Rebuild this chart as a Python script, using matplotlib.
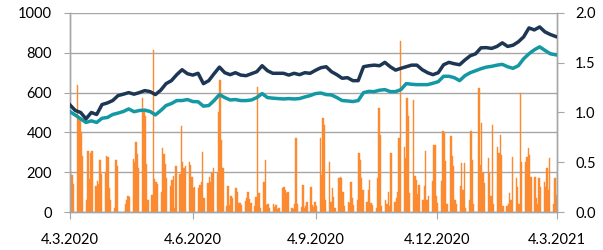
import matplotlib
matplotlib.use("Agg")
import matplotlib.pyplot as plt
import matplotlib.dates as mdates
import numpy as np
import pandas as pd

plt.rcParams['font.family'] = ['Lato', 'DejaVu Sans']

# Daily bars (left axis, 0-1000), business days 4.3.2020 - 4.3.2021
bar_values = [
    205, 185, 140,
    640, 480, 470, 400, 280,
    60, 305, 165, 295, 305,
    130, 155, 140, 260, 190,
    200, 280, 275, 120, 60,
    20, 260, 230, 0, 0,
    0, 40, 60, 80, 75,
    265, 250, 350, 290, 220,
    575, 500, 480, 240, 60,
    85, 815, 165, 150, 140,
    100, 320, 290, 240, 170,
    130, 160, 180, 20, 230,
    190, 430, 250, 220, 230,
    250, 236, 178, 120, 125,
    119, 136, 150, 303, 69,
    146, 178, 152, 196, 221,
    194, 504, 665, 360, 220,
    30, 129, 35, 79, 70,
    121, 100, 45, 44, 35,
    54, 69, 102, 65, 45,
    30, 77, 630, 94, 20,
    152, 261, 35, 38, 20,
    38, 25, 35, 15, 20,
    119, 127, 110, 94, 102,
    20, 15, 38, 370, 38,
    27, 136, 20, 30, 52,
    127, 35, 27, 52, 30,
    370, 186, 470, 437, 60,
    253, 52, 119, 77, 20,
    169, 178, 169, 102, 30,
    52, 44, 152, 72, 35,
    60, 295, 261, 169, 110,
    52, 110, 161, 44, 35,
    20, 169, 521, 387, 30,
    60, 40, 102, 30, 295,
    52, 69, 102, 370, 860,
    328, 270, 573, 481, 95,
    564, 179, 162, 90, 137,
    62, 129, 305, 62, 79,
    154, 338, 338, 80, 45,
    154, 405, 397, 255, 40,
    380, 280, 229, 60, 40,
    129, 246, 112, 246, 20,
    62, 405, 263, 40, 0,
    623, 238, 447, 196, 146,
    270, 194, 80, 437, 40,
    328, 295, 387, 286, 30,
    30, 40, 94, 60, 278,
    169, 127, 40, 596, 253,
    253, 278, 320, 286, 178,
    178, 69, 40, 169, 127,
    152, 127, 220, 110, 270,
    40, 169, 85, 200,
]

# Lines (right axis, 0-2.0), sampled every 4 days from 4.3.2020
navy_values = [
    1.076, 1.02, 1.00, 0.936, 1.00, 0.98, 1.08, 1.096, 1.12, 1.17,
    1.184, 1.20, 1.184, 1.20, 1.22, 1.21, 1.18, 1.224, 1.29, 1.32,
    1.38, 1.43, 1.39, 1.376, 1.394, 1.29, 1.32, 1.39, 1.456, 1.40,
    1.38, 1.40, 1.376, 1.37, 1.39, 1.41, 1.47, 1.42, 1.394, 1.394,
    1.394, 1.376, 1.394, 1.38, 1.40, 1.394, 1.424, 1.45, 1.46, 1.41,
    1.38, 1.344, 1.35, 1.32, 1.32, 1.46, 1.47, 1.476, 1.47, 1.504,
    1.46, 1.426, 1.444, 1.46, 1.476, 1.476, 1.43, 1.40, 1.38, 1.40,
    1.48, 1.504, 1.49, 1.48, 1.528, 1.57, 1.59, 1.65, 1.652, 1.644,
    1.664, 1.70, 1.664, 1.676, 1.71, 1.76, 1.85, 1.83, 1.86, 1.81,
    1.784, 1.764,
]
teal_values = [
    1.008, 0.974, 0.936, 0.90, 0.916, 0.90, 0.942, 0.95, 0.98, 0.994,
    1.01, 1.036, 1.008, 1.02, 1.024, 1.01, 0.976, 1.02, 1.07, 1.09,
    1.12, 1.12, 1.13, 1.11, 1.108, 1.064, 1.07, 1.12, 1.18, 1.15,
    1.126, 1.13, 1.12, 1.12, 1.126, 1.15, 1.19, 1.15, 1.144, 1.14,
    1.136, 1.14, 1.136, 1.14, 1.156, 1.17, 1.19, 1.196, 1.18, 1.176,
    1.15, 1.12, 1.116, 1.11, 1.12, 1.20, 1.212, 1.21, 1.224, 1.23,
    1.21, 1.21, 1.23, 1.29, 1.284, 1.28, 1.28, 1.28, 1.294, 1.31,
    1.364, 1.364, 1.35, 1.32, 1.37, 1.40, 1.42, 1.44, 1.456, 1.464,
    1.476, 1.484, 1.46, 1.444, 1.47, 1.54, 1.59, 1.63, 1.66, 1.624,
    1.59, 1.58,
]

tick_dates = ['2020-03-04', '2020-06-04', '2020-09-04', '2020-12-04', '2021-03-04']
tick_labels = ['4.3.2020', '4.6.2020', '4.9.2020', '4.12.2020', '4.3.2021']
left_ticks = [0, 200, 400, 600, 800, 1000]
right_ticks = [0.0, 0.5, 1.0, 1.5, 2.0]

bar_dates = pd.bdate_range('2020-03-04', '2021-03-04')
line_dates = pd.date_range('2020-03-04', periods=len(navy_values), freq='4D')

ORANGE = '#fb8a31'
NAVY = '#1d3654'
TEAL = '#1398a4'
GRID = '#a6a6a6'

fig = plt.figure(figsize=(6.03, 2.5), dpi=100)
ax = fig.add_axes([70/603, 1-212/250, (557-70)/603, (212-13)/250])
ax2 = ax.twinx()

ax.bar(bar_dates, bar_values, width=1.05, align='edge', color=ORANGE,
       edgecolor=ORANGE, linewidth=0.3, zorder=2)
ax2.plot(line_dates, teal_values, color=TEAL, lw=2.5, solid_joinstyle='round', zorder=3)
ax2.plot(line_dates, navy_values, color=NAVY, lw=2.5, solid_joinstyle='round', zorder=4)

ax.set_xlim(pd.Timestamp('2020-03-04'), pd.Timestamp('2021-03-04'))
ax.set_ylim(0, 1000)
ax2.set_ylim(0, 2.0)
ax.set_yticks(left_ticks)
ax2.set_yticks(right_ticks)
ax2.set_yticklabels([f"{v:.1f}" for v in right_ticks])
ax.set_xticks(pd.to_datetime(tick_dates))
ax.set_xticklabels(tick_labels)

ax.set_axisbelow(True)
ax.yaxis.grid(True, color=GRID, lw=1.0)
for a in (ax, ax2):
    a.spines['top'].set_visible(False)
    for s in ('left', 'right', 'bottom'):
        a.spines[s].set_color(GRID)
        a.spines[s].set_linewidth(1.0)
ax.tick_params(axis='y', length=4, color=GRID, pad=9, labelsize=10.5, labelcolor='#000000')
ax2.tick_params(axis='y', length=5, color=GRID, pad=8, labelsize=10.5, labelcolor='#000000')
ax.tick_params(axis='x', length=5, color=GRID, pad=10, labelsize=10.5, labelcolor='#000000')

fig.savefig('out.png', dpi=100)
